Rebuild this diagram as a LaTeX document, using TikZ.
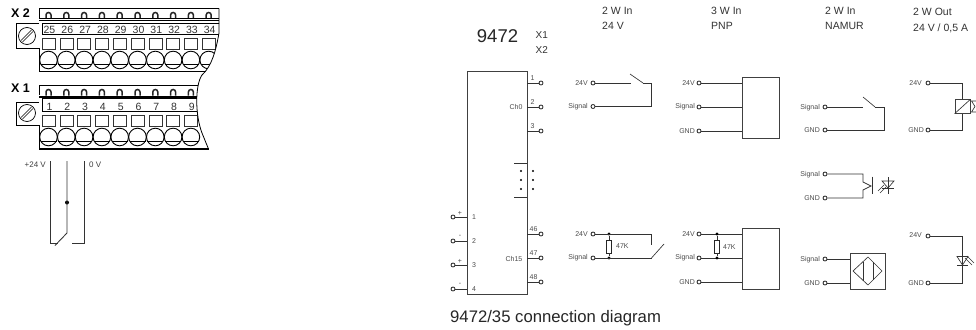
\documentclass[tikz,border=0pt]{standalone}
\usepackage{fontspec}
\setmainfont{Liberation Sans}
\begin{document}
\begin{tikzpicture}[x=1pt,y=-1pt,
  wire/.style={line width=.85pt,draw=black!80},
  thin wire/.style={line width=.65pt,draw=black!80},
  boxn/.style={draw=black!75,line width=.9pt,inner sep=0pt},
  pin/.style={circle,draw=black!85,fill=white,line width=.8pt,minimum size=4pt,inner sep=0pt},
  dotn/.style={circle,fill=black,minimum size=3.4pt,inner sep=0pt},
  tiny/.style={font=\fontsize{7}{8}\selectfont,text=black!70,inner sep=0pt},
  lab/.style={tiny,anchor=east},
  hdr/.style={font=\fontsize{10.5}{12}\selectfont,text=black!80,inner sep=0pt,anchor=west},
  term/.style={font=\fontsize{10.5}{12}\selectfont,text=black!80,inner sep=0pt},
  resbox/.style={draw=black!85,fill=white,line width=.7pt,minimum width=5.5pt,minimum height=13pt,inner sep=0pt},
]
\useasboundingbox (0,0) rectangle (976,329);
\fill[white] (0,0) rectangle (976,329);

% ---------- terminal block ----------
\begin{scope}
\clip (30,0) -- (219,0) -- (219,33) .. controls (216,50) and (212,66) .. (202,75)
   .. controls (195,85) and (195,115) .. (202,133) -- (209,150) -- (30,150) -- cycle;
 \foreach \i in {0,...,9}{
   \pgfmathsetmacro\cx{48.5+17.8*\i}
   \draw[line width=1.5pt,draw=black!85] (\cx-2.5,18.5) -- (\cx-2.5,15) arc (180:360:2.5) -- (\cx+2.5,18.5);
   \draw[line width=.55pt,draw=black!80] (\cx-6.5,38.5) rectangle (\cx+6.5,49);
   \draw[line width=.9pt] (\cx,60) circle (8.8);
   \draw[line width=.8pt] (\cx-8,64) -- (\cx+8,64);
 }
 \foreach \i in {0,...,8}{
   \pgfmathsetmacro\cx{48.5+17.8*\i}
   \draw[line width=1.5pt,draw=black!85] (\cx-2.5,95.5) -- (\cx-2.5,92) arc (180:360:2.5) -- (\cx+2.5,95.5);
   \draw[line width=.55pt,draw=black!80] (\cx-6.5,115) rectangle (\cx+6.5,126);
   \draw[line width=.9pt] (\cx,137) circle (8.8);
   \draw[line width=.8pt] (\cx-8,141) -- (\cx+8,141);
 }
 \draw[line width=.8pt] (39,8.5) -- (219,8.5);
 \draw[line width=.9pt] (39,20.5) -- (219,20.5);
 \draw[line width=.5pt] (39,18.5) -- (219,18.5);
 \draw[line width=.55pt] (42,23) rectangle (225,34);
 \draw[line width=.8pt] (39,71.5) -- (225,71.5);
 \draw[line width=.8pt] (39,85) -- (219,85);
 \draw[line width=1.4pt] (39,97) -- (219,97);
 \draw[line width=.55pt] (42,98) rectangle (225,111.5);
\end{scope}
\draw[line width=.8pt] (219,8.5) -- (219,33) .. controls (216,50) and (212,66) .. (202,75)
   .. controls (195,85) and (195,115) .. (202,133) -- (208.5,149);
\draw[line width=.8pt] (39,8.5) -- (39,18);
\draw[line width=.8pt] (39,48) -- (39,71.5);
\draw[line width=.8pt] (39,85) -- (39,95);
\draw[line width=.8pt] (39,125) -- (39,149);
\draw[line width=1.3pt] (39,149) -- (208.5,149);
\draw[line width=.7pt] (39,23) -- (16,23) -- (16,48) -- (39,48);
\draw[line width=.7pt] (39,102) -- (16,102) -- (16,125) -- (39,125);
\foreach \y in {36,113}{
  \draw[line width=.7pt] (27,\y) circle (8.5);
  \draw[line width=.5pt] (21,\y+4.5) -- (31.5,\y-6);
  \draw[line width=.5pt] (22.5,\y+6) -- (33,\y-4.5);
}
\node[font=\bfseries\fontsize{12.5}{13}\selectfont,inner sep=0pt] (x2lab) at (20.5,13) {X 2};
\node[font=\bfseries\fontsize{12.5}{13}\selectfont,inner sep=0pt] (x1lab) at (20.5,88.5) {X 1};
\foreach \n [count=\i from 0] in {25,...,34}{
  \pgfmathsetmacro\cx{49.5+17.8*\i}
  \node[term] (t\n) at (\cx,29.5) {\n};
}
\foreach \n [count=\i from 0] in {1,...,9}{
  \pgfmathsetmacro\cx{49.5+17.8*\i}
  \node[term] (t\n) at (\cx,106.5) {\n};
}

% ---------- +24 V / 0 V wiring ----------
\node[font=\fontsize{8}{9}\selectfont,text=black!75,inner sep=0pt,anchor=east] (p24) at (46,165) {+24 V};
\node[font=\fontsize{8}{9}\selectfont,text=black!75,inner sep=0pt,anchor=west] (z0) at (89,165) {0 V};
\coordinate (wa) at (50,161); \coordinate (wb) at (67,161); \coordinate (wc) at (84,161);
\coordinate (wd) at (67,233); \coordinate (we) at (84,243); \coordinate (wf) at (72,243);
\coordinate (wg) at (50,243); \coordinate (wh) at (57.5,243); \coordinate (wi) at (55,245.5);
\node[dotn,minimum size=4pt] (wdot) at (67,202.5) {};
\draw[wire] (wa) -- (wg) -- (wh);
\draw[wire] (wb) -- (wd) -- (wi);
\draw[wire] (wc) -- (we) -- (wf);

% ---------- headings ----------
\node[font=\fontsize{18.5}{20}\selectfont,text=black!85,inner sep=0pt] (title) at (497.5,36.5) {9472};
\node[hdr,font=\fontsize{10}{12}\selectfont] (hx1) at (535.5,35) {X1};
\node[hdr,font=\fontsize{10}{12}\selectfont] (hx2) at (535.5,50) {X2};
\node[hdr] (h1a) at (602,11) {2 W In}; \node[hdr] (h1b) at (602,26) {24 V};
\node[hdr] (h2a) at (711,11) {3 W In}; \node[hdr] (h2b) at (711,26) {PNP};
\node[hdr] (h3a) at (825,11) {2 W In}; \node[hdr] (h3b) at (825,26) {NAMUR};
\node[hdr] (h4a) at (913,12) {2 W Out}; \node[hdr] (h4b) at (913,28) {24 V / 0,5 A};
\node[inner sep=0pt,anchor=west,font=\fontsize{16.7}{18}\selectfont,text=black!85] (cap) at (450,318) {9472/35 connection diagram};

% ---------- module ----------
\node[boxn,minimum width=60pt,minimum height=223pt] (mod) at (497,182.5) {};
\foreach \n/\y in {p1/83,p2/107,p3/131,p46/234,p47/258,p48/282}{
  \node[pin] (\n) at (541,\y) {};
  \draw[wire] (\n) -- (\n -| mod.east);
}
\foreach \n/\y in {q1/217,q2/241,q3/265,q4/289}{
  \node[pin] (\n) at (453,\y) {};
  \draw[wire] (\n) -- (\n -| mod.west);
}
\foreach \t/\x/\y in {1/532.5/78,2/532.5/102,3/532.5/126,46/533.5/229,47/533.5/253,48/533.5/277.5,1/474/217,2/474/241,3/474/265,4/474/289}{
  \node[tiny] at (\x,\y) {\t};
}
\node[tiny] (ch0) at (516,106.5) {Ch0};
\node[tiny] (ch15) at (514,259) {Ch15};
\foreach \t/\y in {+/213,-/236.5,+/261,-/284.5}{ \node[tiny] at (460,\y) {\t}; }
\coordinate (tk1) at (514,163); \coordinate (tk2) at (514,197);
\draw[wire] (tk1) -- (tk1 -| mod.east);
\draw[wire] (tk2) -- (tk2 -| mod.east);
\foreach \x in {521,533}\foreach \y in {171,180,189}{ \fill (\x,\y) circle (1.2); }

% ---------- 2W In 24 V, top ----------
\node[pin] (a1) at (593,83) {}; \node[pin] (a2) at (593,106.5) {};
\node[lab] at (588,83.5) {24V}; \node[lab] at (588,107) {Signal};
\coordinate (a3) at (631,83); \coordinate (a4) at (630,74); \coordinate (a5) at (643,83); \coordinate (a6) at (651.5,83); \coordinate (a7) at (651.5,106.5);
\draw[wire] (a1) -- (a3);
\draw[thin wire] (a4) -- (a5);
\draw[wire] (a5) -- (a6) -- (a7) -- (a2);

% ---------- 2W In 24 V, bottom ----------
\node[pin] (b1) at (593,234) {}; \node[pin] (b2) at (593,258) {};
\node[lab] at (588,234) {24V}; \node[lab] at (588,258) {Signal};
\node[dotn] (b3) at (609,234) {}; \node[dotn] (b4) at (609,258) {};
\node[resbox] (br) at (609,246.5) {};
\node[tiny,anchor=west] at (616,246.5) {47K};
\coordinate (b5) at (651.5,234); \coordinate (b6) at (651.5,245); \coordinate (b7) at (651.5,258); \coordinate (b8) at (664,244);
\draw[wire] (b1) -- (b5) -- (b6);
\draw[wire] (b2) -- (b7);
\draw[thin wire] (b7) -- (b8);
\draw[wire] (b3) -- (br) -- (b4);

% ---------- PNP ----------
\node[boxn,minimum width=37pt,minimum height=61pt] (c0) at (760.5,107.5) {};
\foreach \n/\y/\t in {c1/83/24V,c2/107/Signal,c3/131/GND}{
  \node[pin] (\n) at (699,\y) {};
  \node[lab] at (695,\y) {\t};
  \draw[wire] (\n) -- (\n -| c0.west);
}
\node[boxn,minimum width=37pt,minimum height=61pt] (d0) at (760.5,258.5) {};
\foreach \n/\y/\t in {d1/234/24V,d2/258/Signal,d3/282/GND}{
  \node[pin] (\n) at (699,\y) {};
  \node[lab] at (695,\y) {\t};
  \draw[wire] (\n) -- (\n -| d0.west);
}
\node[dotn] (d4) at (717,234) {}; \node[dotn] (d5) at (717,258) {};
\node[resbox] (dr) at (717,246.5) {};
\node[tiny,anchor=west] at (723,247) {47K};
\draw[wire] (d4) -- (dr) -- (d5);

% ---------- NAMUR ----------
\node[pin] (e1) at (825,107) {}; \node[pin] (e2) at (825,130) {};
\node[lab] at (820,107.5) {Signal}; \node[lab] at (820,130.5) {GND};
\coordinate (e3) at (863,107); \coordinate (e4) at (863,97); \coordinate (e5) at (875,107); \coordinate (e6) at (884,107); \coordinate (e7) at (884,130);
\draw[wire] (e1) -- (e3);
\draw[thin wire] (e4) -- (e5);
\draw[wire] (e5) -- (e6) -- (e7) -- (e2);

% ---------- optocoupler ----------
\node[pin] (f1) at (825,174) {}; \node[pin] (f2) at (825,198) {};
\node[lab] at (820,174.5) {Signal}; \node[lab] at (820,198.5) {GND};
\coordinate (f3) at (863,174); \coordinate (f4) at (863,182); \coordinate (f5) at (871,186);
\coordinate (f6) at (863,198); \coordinate (f7) at (863,190);
\coordinate (f8) at (872,176.5); \coordinate (f9) at (872,194);
\draw[wire] (f1) -- (f3) -- (f4) -- (f5) -- (f7) -- (f6) -- (f2);
\draw[wire] (f8) -- (f9);
\draw[thin wire] (888,177) -- (888,194);
\draw[thin wire] (882,188) -- (894,188);
\draw[thin wire] (882,181) -- (894,181) -- (888,188) -- cycle;
\draw[thin wire] (878,191) -- (884,185);
\draw[thin wire] (880,193) -- (886,187);

% ---------- inductive sensor ----------
\node[boxn,minimum width=35pt,minimum height=36pt] (g0) at (867.5,271) {};
\node[pin] (g1) at (825,259) {}; \node[pin] (g2) at (825,283) {};
\node[lab] at (820,259.5) {Signal}; \node[lab] at (820,283.5) {GND};
\draw[wire] (g1) -- (g1 -| g0.west);
\draw[wire] (g2) -- (g2 -| g0.west);
\coordinate (gn) at (868,257); \coordinate (ge) at (882,271); \coordinate (gs) at (868,285); \coordinate (gw) at (853,271);
\draw[thin wire] (gn) -- (ge) -- (gs) -- (gw) -- cycle;
\draw[thin wire] (863.5,261.5) -- (863.5,280.5);
\draw[thin wire] (873,262) -- (873,280);

% ---------- 2W Out relay ----------
\node[pin] (h1) at (928,83) {}; \node[pin] (h2) at (928,130) {};
\node[lab] at (922,83) {24V}; \node[lab] at (924,130) {GND};
\node[boxn,minimum width=15pt,minimum height=13.5pt] (h0) at (962.5,106.5) {};
\coordinate (h3) at (962.5,83); \coordinate (h4) at (962.5,130);
\draw[wire] (h1) -- (h3) -- (h0.north);
\draw[wire] (h2) -- (h4) -- (h0.south);
\draw[thin wire] (h0.south west) -- (h0.north east);
\draw[thin wire] (976,101) -- (971.5,101) -- (975,106.5) -- (971.5,112) -- (976,112);

% ---------- 2W Out LED ----------
\node[pin] (i1) at (928,236) {}; \node[pin] (i2) at (928,283) {};
\node[lab] at (922,235.5) {24V}; \node[lab] at (924,283) {GND};
\coordinate (i3) at (962.5,236); \coordinate (i4) at (962.5,283); \coordinate (i5) at (962.5,265);
\draw[wire] (i1) -- (i3) -- (i4) -- (i2);
\draw[thin wire] (957,256.5) -- (968,256.5) -- (i5) -- cycle;
\draw[wire] (957,265) -- (968,265);
\draw[thin wire] (965,258) -- (972,265);
\draw[thin wire] (967,256) -- (974,263);
\end{tikzpicture}
\end{document}
